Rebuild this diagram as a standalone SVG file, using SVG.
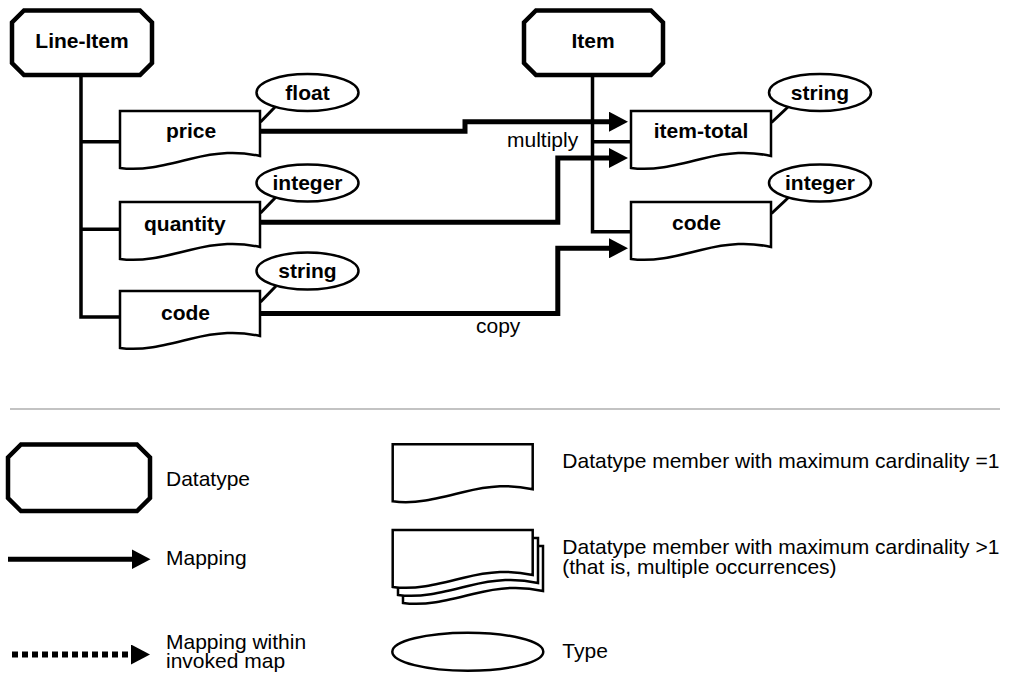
<svg xmlns="http://www.w3.org/2000/svg" xmlns:xlink="http://www.w3.org/1999/xlink" width="1011" height="675" viewBox="0 0 1011 675">
<style>
  text { font-family: "Liberation Sans", Arial, Helvetica, sans-serif; font-size: 21px; fill: #000; }
  .b { font-weight: bold; }
  .mid { text-anchor: middle; }
  .oct { fill: #fff; stroke: #000; stroke-width: 4.5; stroke-linejoin: miter; }
  .doc { fill: #fff; stroke: #000; stroke-width: 2.5; stroke-linejoin: miter; }
  .typ { fill: #fff; stroke: #000; stroke-width: 2.5; }
  .tree { fill: none; stroke: #000; stroke-width: 3.5; stroke-linejoin: miter; }
  .tie { fill: none; stroke: #000; stroke-width: 3; }
  .map { fill: none; stroke: #000; stroke-width: 5; stroke-linejoin: miter; marker-end: url(#arrow); }
  .dot { fill: none; stroke: #000; stroke-width: 6; stroke-dasharray: 6 4; marker-end: url(#arrow); }
  .sep { stroke: #c3c3c3; stroke-width: 2; }
</style>
<defs>
  <marker id="arrow" viewBox="0 0 19 20" markerWidth="19" markerHeight="20" refX="1" refY="10" orient="auto" markerUnits="userSpaceOnUse">
    <path d="M0,0 L19,10 L0,20 Z" fill="#000"/>
  </marker>
  <path id="docShape" d="M0,0 H140 V45 C118,40 98,41 70,48 C42,55 22,60 0,57 Z"/>
</defs>

<g id="connectors">
  <path class="tree" d="M81,75 V317 H120 M81,141.7 H120 M81,229.2 H120"/>
  <path class="tree" d="M592.5,75 V231.7 H631 M592.5,141.7 H631"/>
  <path class="tie" d="M260.5,122 L276,106"/>
  <path class="tie" d="M260.5,213 L276,197"/>
  <path class="tie" d="M260.5,302 L276,286"/>
  <path class="tie" d="M771.5,122.5 L789,106"/>
  <path class="tie" d="M771.5,213.5 L789,197"/>
  <path class="map" d="M260,131.3 H465 V121.7 H610"/>
  <path class="map" d="M260,222.2 H557.8 V158 H610"/>
  <path class="map" d="M260,313.5 H557.8 V248.3 H610"/>
  <text x="507" y="146.5">multiply</text>
  <text x="476" y="333">copy</text>
</g>

<g id="line-item">
  <path class="oct" d="M24,10.5 H140 L152,22.5 V63 L140,75 H24 L12,63 V22.5 Z"/>
  <text class="b mid" x="82" y="48">Line-Item</text>
</g>
<g id="item">
  <path class="oct" d="M536,10.5 H651 L663,22.5 V63 L651,75 H536 L524,63 V22.5 Z"/>
  <text class="b mid" x="593" y="48">Item</text>
</g>

<g id="price">
  <use xlink:href="#docShape" href="#docShape" class="doc" x="120" y="111"/>
  <text class="b" x="166" y="138">price</text>
</g>
<g id="quantity">
  <use xlink:href="#docShape" href="#docShape" class="doc" x="120" y="202"/>
  <text class="b" x="144" y="231">quantity</text>
</g>
<g id="code-left">
  <use xlink:href="#docShape" href="#docShape" class="doc" x="120" y="291"/>
  <text class="b" x="161" y="320">code</text>
</g>
<g id="item-total">
  <use xlink:href="#docShape" href="#docShape" class="doc" x="631" y="111"/>
  <text class="b mid" x="701" y="138">item-total</text>
</g>
<g id="code-right">
  <use xlink:href="#docShape" href="#docShape" class="doc" x="631" y="202"/>
  <text class="b" x="672" y="230">code</text>
</g>

<g id="type-float">
  <ellipse class="typ" cx="307.5" cy="92.5" rx="51" ry="18.5"/>
  <text class="b mid" x="307.5" y="99.5">float</text>
</g>
<g id="type-integer-left">
  <ellipse class="typ" cx="307.5" cy="183" rx="51" ry="18.5"/>
  <text class="b mid" x="307.5" y="189.5">integer</text>
</g>
<g id="type-string-left">
  <ellipse class="typ" cx="307.5" cy="271" rx="51" ry="18.5"/>
  <text class="b mid" x="307.5" y="277.5">string</text>
</g>
<g id="type-string-right">
  <ellipse class="typ" cx="820" cy="92.5" rx="51" ry="18.5"/>
  <text class="b mid" x="820" y="99.5">string</text>
</g>
<g id="type-integer-right">
  <ellipse class="typ" cx="820" cy="183" rx="51" ry="18.5"/>
  <text class="b mid" x="820" y="189.5">integer</text>
</g>

<line class="sep" x1="10" y1="409" x2="1000" y2="409"/>

<g id="legend-datatype">
  <path class="oct" d="M21,444.5 H137 L150,457.5 V498 L137,511 H21 L8,498 V457.5 Z"/>
  <text x="166" y="486">Datatype</text>
</g>
<g id="legend-mapping">
  <path class="map" d="M8,559.3 H132.5"/>
  <text x="166" y="565">Mapping</text>
</g>
<g id="legend-invoked">
  <path class="dot" d="M12,654.5 H132"/>
  <text x="166" y="648.5">Mapping within</text>
  <text x="166" y="668">invoked map</text>
</g>
<g id="legend-member-single">
  <use xlink:href="#docShape" href="#docShape" class="doc" x="392.7" y="444.3"/>
  <text x="562.3" y="467.7">Datatype member with maximum cardinality =1</text>
</g>
<g id="legend-member-multi">
  <use xlink:href="#docShape" href="#docShape" class="doc" x="403" y="546"/>
  <use xlink:href="#docShape" href="#docShape" class="doc" x="398" y="538"/>
  <use xlink:href="#docShape" href="#docShape" class="doc" x="392.7" y="530"/>
  <text x="562.3" y="553.5">Datatype member with maximum cardinality &gt;1</text>
  <text x="562.3" y="574">(that is, multiple occurrences)</text>
</g>
<g id="legend-type">
  <ellipse class="typ" cx="467.8" cy="651.7" rx="75.5" ry="19"/>
  <text x="562.3" y="658.3">Type</text>
</g>
</svg>
